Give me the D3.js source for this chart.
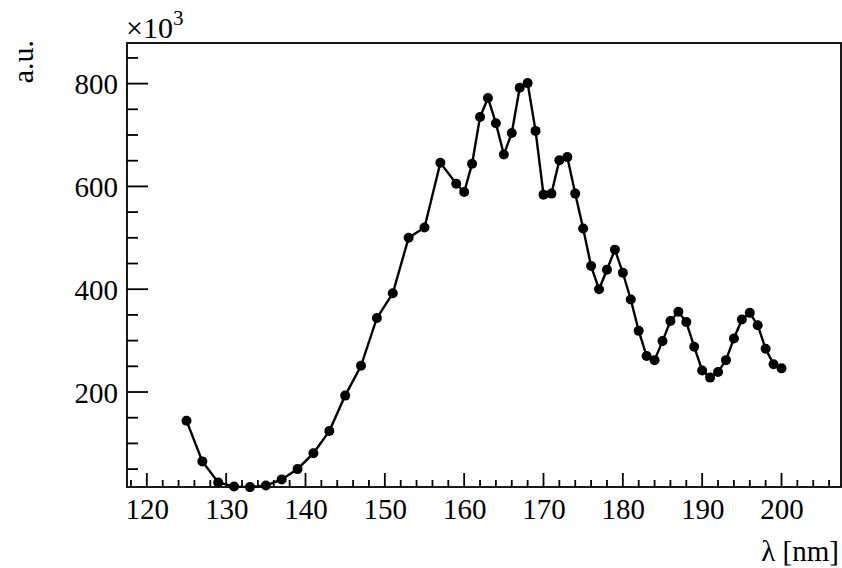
<!DOCTYPE html>
<html><head><meta charset="utf-8">
<script src="https://cdn.jsdelivr.net/npm/d3@7"></script>
<style>
html,body{margin:0;padding:0;background:#fff;}
svg{display:block;}
</style></head>
<body>
<svg id="c" width="842" height="568"></svg>
<script>
// wavelength (nm)
const wavelength = [125,127,129,131,133,135,137,139,141,143,145,147,149,151,153,155,157,159,160,161,162,163,164,165,166,167,168,169,170,171,172,173,174,175,176,177,178,179,180,181,182,183,184,185,186,187,188,189,190,191,192,193,194,195,196,197,198,199,200];
// intensity (x10^3 a.u.)
const intensity = [144,65,24,16,15,18,30,50,81,124,193,251,344,392,500,520,646,605,589,644,735,772,723,662,704,792,801,708,584,586,651,657,586,518,445,400,438,477,432,380,319,270,262,299,338,356,336,288,242,228,239,262,304,341,354,330,284,254,246];
const xTicks = [120,130,140,150,160,170,180,190,200];
const yTicks = [200,400,600,800];
const xDomain = [117.5, 207.5];
const yDomain = [15.2, 879];

const svg = d3.select("#c");
const L = 127, R = 841, T = 43, B = 487;
const x = d3.scaleLinear().domain(xDomain).range([L, R]);
const y = d3.scaleLinear().domain(yDomain).range([B, T]);
const FF = "Liberation Serif";

const data = wavelength.map((w, i) => [w, intensity[i]]);
svg.append("path").datum(data)
  .attr("d", d3.line().x(d => x(d[0])).y(d => y(d[1])))
  .attr("fill", "none").attr("stroke", "#000").attr("stroke-width", 2.4);
svg.append("g").selectAll("circle").data(data).join("circle")
  .attr("cx", d => x(d[0])).attr("cy", d => y(d[1])).attr("r", 5).attr("fill", "#000");

svg.append("rect").attr("x", L).attr("y", T).attr("width", R - L).attr("height", B - T)
  .attr("fill", "none").attr("stroke", "#000").attr("stroke-width", 1.8);

const xMinor = d3.range(118, 207.5, 2);
svg.append("g").selectAll("line").data(xMinor).join("line")
  .attr("x1", d => x(d)).attr("x2", d => x(d))
  .attr("y1", B).attr("y2", d => B - (xTicks.includes(d) ? 14 : 7))
  .attr("stroke", "#000").attr("stroke-width", 1.8);
const xa = svg.append("g").attr("transform", `translate(0,${B})`)
  .call(d3.axisBottom(x).tickValues(xTicks).tickSize(0).tickPadding(0).tickFormat(d3.format("d")));
xa.attr("font-family", FF).attr("font-size", 29);
xa.select(".domain").remove();
xa.selectAll("text").attr("dy", null).attr("y", 32);

const yMinor = d3.range(50, 879, 50);
svg.append("g").selectAll("line").data(yMinor).join("line")
  .attr("x1", L).attr("x2", d => L + (yTicks.includes(d) ? 21 : 11))
  .attr("y1", d => y(d)).attr("y2", d => y(d))
  .attr("stroke", "#000").attr("stroke-width", 1.8);
const ya = svg.append("g").attr("transform", `translate(${L},0)`)
  .call(d3.axisLeft(y).tickValues(yTicks).tickSize(0).tickPadding(9).tickFormat(d3.format("d")));
ya.attr("font-family", FF).attr("font-size", 29);
ya.select(".domain").remove();
ya.selectAll("text").attr("dy", "0.35em");

const ex = svg.append("text").attr("x", 126).attr("y", 38).attr("font-family", FF).attr("font-size", 30);
ex.append("tspan").text("×10");
ex.append("tspan").attr("font-size", 21).attr("dy", -13).text("3");

svg.append("text").attr("transform", "translate(33,40) rotate(-90)")
  .attr("text-anchor", "end").attr("font-family", FF).attr("font-size", 30).text("a.u.");
svg.append("text").attr("x", 839).attr("y", 561).attr("text-anchor", "end")
  .attr("font-family", FF).attr("font-size", 29).text("λ [nm]");
</script>
</body></html>
